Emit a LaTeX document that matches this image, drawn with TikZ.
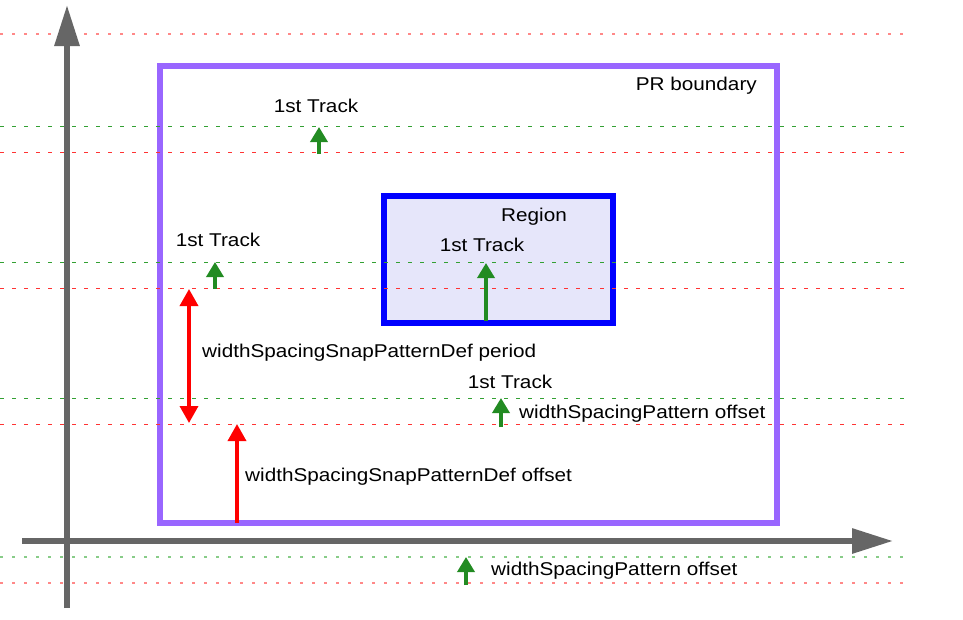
\documentclass[tikz,border=0pt]{standalone}
\usepackage{fontspec}
\setmainfont[FakeStretch=1.12]{Liberation Sans}
\usetikzlibrary{arrows.meta}
\definecolor{axisgray}{HTML}{666666}
\definecolor{prpurple}{HTML}{9966FF}
\definecolor{regfill}{HTML}{E6E6FA}
\definecolor{trkgreen}{HTML}{228B22}
\definecolor{lgreen}{HTML}{33A033}
\definecolor{lred}{HTML}{FF3333}
\definecolor{pgreen}{HTML}{88CC88}
\definecolor{pred}{HTML}{FF8888}
\tikzset{
  lbl/.style={inner sep=0pt, font=\fontsize{18.5}{21}\selectfont},
  gline/.style={lgreen, line width=0.9pt, dash pattern=on 4pt off 8pt},
  rline/.style={lred, line width=0.9pt, dash pattern=on 4pt off 8pt},
  pgline/.style={pgreen, line width=1.2pt, dash pattern=on 3pt off 9pt},
  prline/.style={pred, line width=1.2pt, dash pattern=on 3pt off 9pt},
  trk/.style={trkgreen, line width=3.5pt, -{Triangle[length=15pt,width=17pt]}},
  redarr/.style={red, line width=3.5pt, -{Triangle[length=17pt,width=18pt]}},
  reddbl/.style={red, line width=3.5pt, {Triangle[length=17pt,width=18pt]}-{Triangle[length=17pt,width=18pt]}},
  axis/.style={axisgray, line width=6pt, -{Triangle[length=41pt,width=24pt]}},
}
\begin{document}
\begin{tikzpicture}[x=1pt,y=-1pt]
\useasboundingbox[fill=white] (0,0) rectangle (963,619);
% horizontal guide lines
\coordinate (r0a) at (0,34); \coordinate (r0b) at (910,34);
\draw[prline] (r0a) -- (r0b);
\coordinate (g1a) at (0,126); \coordinate (g1b) at (908,126);
\coordinate (r1a) at (0,152); \coordinate (r1b) at (908,152);
\coordinate (g2a) at (0,262); \coordinate (g2b) at (908,262);
\coordinate (r2a) at (0,288); \coordinate (r2b) at (908,288);
\coordinate (g3a) at (0,398); \coordinate (g3b) at (908,398);
\coordinate (r3a) at (0,424); \coordinate (r3b) at (908,424);
\coordinate (g4a) at (0,557); \coordinate (g4b) at (908,557);
\coordinate (r4a) at (0,583); \coordinate (r4b) at (908,583);
% region box
\node[draw=blue, fill=regfill, line width=6pt, minimum width=229pt, minimum height=127pt, inner sep=0pt] (region) at (498.5,259.5) {};
% PR boundary
\node[draw=prpurple, line width=6pt, minimum width=617pt, minimum height=457pt, inner sep=0pt] (pr) at (468.5,294.5) {};
\draw[gline] (g1a) -- (g1b);
\draw[rline] (r1a) -- (r1b);
\draw[gline] (g2a) -- (g2b);
\draw[rline] (r2a) -- (r2b);
\draw[gline] (g3a) -- (g3b);
\draw[rline] (r3a) -- (r3b);
\draw[pgline] (g4a) -- (g4b);
\draw[prline] (r4a) -- (r4b);
% axes
\coordinate (yaxs) at (67,608); \coordinate (yaxe) at (67,5);
\coordinate (xaxs) at (22,541); \coordinate (xaxe) at (893,541);
\draw[axis] (yaxs) -- (yaxe);
\draw[axis] (xaxs) -- (xaxe);
% labels
\node[lbl, anchor=east] (prl) at (757,86) {PR boundary};
\node[lbl] (regl) at (534,217) {Region};
\node[lbl] (t0) at (482,245) {1st Track};
\node[lbl] (t1) at (316,106) {1st Track};
\node[lbl] (t2) at (218,240) {1st Track};
\node[lbl] (t3) at (510,382) {1st Track};
\node[lbl, anchor=west] (per) at (202,353) {widthSpacingSnapPatternDef period};
\node[lbl, anchor=west] (wso1) at (519,414) {widthSpacingPattern offset};
\node[lbl, anchor=west] (wsso) at (245,477) {widthSpacingSnapPatternDef offset};
\node[lbl, anchor=west] (wso2) at (491,571) {widthSpacingPattern offset};
% track arrows
\coordinate (a0s) at (486,321); \coordinate (a0e) at (486,263);
\draw[trk] (a0s) -- (a0e);
\coordinate (a1s) at (319,154); \coordinate (a1e) at (319,127);
\draw[trk] (a1s) -- (a1e);
\coordinate (a2s) at (215,289); \coordinate (a2e) at (215,262);
\draw[trk] (a2s) -- (a2e);
\coordinate (a3s) at (501,427); \coordinate (a3e) at (501,398);
\draw[trk] (a3s) -- (a3e);
\coordinate (a4s) at (466,585); \coordinate (a4e) at (466,557);
\draw[trk] (a4s) -- (a4e);
% red arrows
\coordinate (pa) at (189,289); \coordinate (pb) at (189,423);
\draw[reddbl] (pa) -- (pb);
\coordinate (oa) at (237,523); \coordinate (ob) at (237,424);
\draw[redarr] (oa) -- (ob);
\end{tikzpicture}
\end{document}
